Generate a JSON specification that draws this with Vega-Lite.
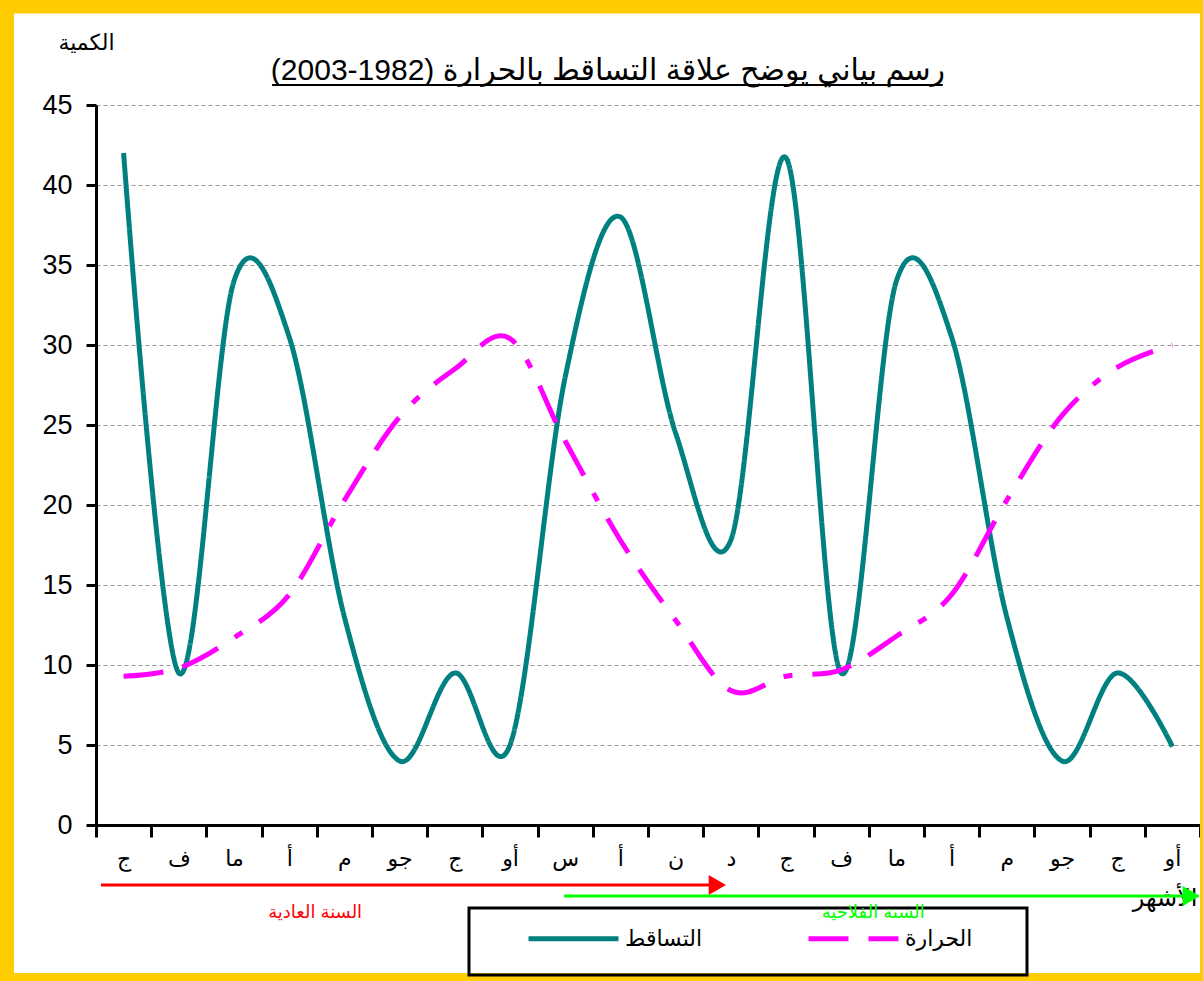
{
  "$schema": "https://vega.github.io/schema/vega-lite/v6.json",
  "width": 1104,
  "height": 720,
  "autosize": {"type": "none"},
  "padding": {"left": 96, "top": 105, "right": 3, "bottom": 156},
  "background": "white",
  "config": {"view": {"stroke": null}, "font": "Liberation Sans, DejaVu Sans, sans-serif"},
  "layer": [
    {
      "layer": [
        {
          "data": {"values": [{}]},
          "mark": {"type": "rect", "fillOpacity": 0, "stroke": "#FFCC00", "strokeWidth": 14},
          "encoding": {
            "x": {"datum": -1.6123, "type": "quantitative", "scale": {"domain": [0, 20], "nice": false, "zero": false}, "axis": null},
            "x2": {"datum": 20.127},
            "y": {"datum": 51.156, "type": "quantitative", "scale": {"domain": [0, 45], "nice": false}, "axis": null},
            "y2": {"datum": -9.6875}
          }
        },
        {
          "data": {"values": [{}]},
          "mark": {"type": "text", "text": "(2003-1982) رسم بياني يوضح علاقة التساقط بالحرارة", "color": "black", "fontSize": 30, "baseline": "alphabetic", "align": "center"},
          "encoding": {
            "x": {"datum": 9.275, "type": "quantitative", "scale": {"domain": [0, 20], "nice": false, "zero": false}, "axis": null},
            "y": {"datum": 46.5625, "type": "quantitative", "scale": {"domain": [0, 45], "nice": false}, "axis": null}
          }
        },
        {
          "data": {"values": [{}]},
          "mark": {"type": "rect", "fillOpacity": 0, "stroke": "black", "strokeWidth": 3},
          "encoding": {
            "x": {"datum": 6.757, "type": "quantitative", "scale": {"domain": [0, 20], "nice": false, "zero": false}, "axis": null},
            "x2": {"datum": 16.866},
            "y": {"datum": -5.19, "type": "quantitative", "scale": {"domain": [0, 45], "nice": false}, "axis": null},
            "y2": {"datum": -9.37}
          }
        },
        {
          "data": {"values": [{}]},
          "mark": {"type": "rule", "color": "black", "strokeWidth": 2},
          "encoding": {
            "x": {"datum": 3.19, "type": "quantitative", "scale": {"domain": [0, 20], "nice": false, "zero": false}, "axis": null},
            "x2": {"datum": 15.34},
            "y": {"datum": 46.25, "type": "quantitative", "scale": {"domain": [0, 45], "nice": false}, "axis": null}
          }
        },
        {
          "data": {"values": [{}]},
          "mark": {"type": "rule", "color": "#FF0000", "strokeWidth": 3},
          "encoding": {
            "x": {"datum": 0.09, "type": "quantitative", "scale": {"domain": [0, 20], "nice": false, "zero": false}, "axis": null},
            "x2": {"datum": 11.256},
            "y": {"datum": -3.75, "type": "quantitative", "scale": {"domain": [0, 45], "nice": false}, "axis": null}
          }
        },
        {
          "data": {"values": [{}]},
          "mark": {"type": "point", "shape": "triangle-right", "filled": true, "color": "#FF0000", "size": 400, "opacity": 1},
          "encoding": {
            "x": {"datum": 11.256, "type": "quantitative", "scale": {"domain": [0, 20], "nice": false, "zero": false}, "axis": null},
            "y": {"datum": -3.75, "type": "quantitative", "scale": {"domain": [0, 45], "nice": false}, "axis": null}
          }
        },
        {
          "data": {"values": [{}]},
          "mark": {"type": "rule", "color": "#00FF00", "strokeWidth": 3},
          "encoding": {
            "x": {"datum": 8.48, "type": "quantitative", "scale": {"domain": [0, 20], "nice": false, "zero": false}, "axis": null},
            "x2": {"datum": 19.843},
            "y": {"datum": -4.44, "type": "quantitative", "scale": {"domain": [0, 45], "nice": false}, "axis": null}
          }
        },
        {
          "data": {"values": [{}]},
          "mark": {"type": "point", "shape": "triangle-right", "filled": true, "color": "#00FF00", "size": 400, "opacity": 1},
          "encoding": {
            "x": {"datum": 19.843, "type": "quantitative", "scale": {"domain": [0, 20], "nice": false, "zero": false}, "axis": null},
            "y": {"datum": -4.44, "type": "quantitative", "scale": {"domain": [0, 45], "nice": false}, "axis": null}
          }
        },
        {
          "data": {"values": [{}]},
          "mark": {"type": "text", "text": "السنة العادية", "color": "#FF0000", "fontSize": 18, "baseline": "middle", "align": "center"},
          "encoding": {
            "x": {"datum": 3.97, "type": "quantitative", "scale": {"domain": [0, 20], "nice": false, "zero": false}, "axis": null},
            "y": {"datum": -5.5, "type": "quantitative", "scale": {"domain": [0, 45], "nice": false}, "axis": null}
          }
        },
        {
          "data": {"values": [{}]},
          "mark": {"type": "text", "text": "السنة الفلاحية", "color": "#00FF00", "fontSize": 18, "baseline": "middle", "align": "center"},
          "encoding": {
            "x": {"datum": 14.08, "type": "quantitative", "scale": {"domain": [0, 20], "nice": false, "zero": false}, "axis": null},
            "y": {"datum": -5.5, "type": "quantitative", "scale": {"domain": [0, 45], "nice": false}, "axis": null}
          }
        }
      ]
    },
    {
      "data": {"values": [
        {"i": 0, "series": "التساقط", "value": 42},
        {"i": 1, "series": "التساقط", "value": 9.5},
        {"i": 2, "series": "التساقط", "value": 34},
        {"i": 3, "series": "التساقط", "value": 30.5},
        {"i": 4, "series": "التساقط", "value": 13},
        {"i": 5, "series": "التساقط", "value": 4},
        {"i": 6, "series": "التساقط", "value": 9.5},
        {"i": 7, "series": "التساقط", "value": 5},
        {"i": 8, "series": "التساقط", "value": 28},
        {"i": 9, "series": "التساقط", "value": 38},
        {"i": 10, "series": "التساقط", "value": 24.5},
        {"i": 11, "series": "التساقط", "value": 17.8},
        {"i": 12, "series": "التساقط", "value": 41.7},
        {"i": 13, "series": "التساقط", "value": 9.5},
        {"i": 14, "series": "التساقط", "value": 34},
        {"i": 15, "series": "التساقط", "value": 30.5},
        {"i": 16, "series": "التساقط", "value": 13},
        {"i": 17, "series": "التساقط", "value": 4},
        {"i": 18, "series": "التساقط", "value": 9.5},
        {"i": 19, "series": "التساقط", "value": 4.9},
        {"i": 0, "series": "الحرارة", "value": 9.3},
        {"i": 1, "series": "الحرارة", "value": 9.8},
        {"i": 2, "series": "الحرارة", "value": 11.7},
        {"i": 3, "series": "الحرارة", "value": 14.4},
        {"i": 4, "series": "الحرارة", "value": 20.3},
        {"i": 5, "series": "الحرارة", "value": 25.5},
        {"i": 6, "series": "الحرارة", "value": 28.5},
        {"i": 7, "series": "الحرارة", "value": 30.4},
        {"i": 8, "series": "الحرارة", "value": 24},
        {"i": 9, "series": "الحرارة", "value": 17.8},
        {"i": 10, "series": "الحرارة", "value": 12.8},
        {"i": 11, "series": "الحرارة", "value": 8.4},
        {"i": 12, "series": "الحرارة", "value": 9.3},
        {"i": 13, "series": "الحرارة", "value": 9.7},
        {"i": 14, "series": "الحرارة", "value": 11.8},
        {"i": 15, "series": "الحرارة", "value": 14.4},
        {"i": 16, "series": "الحرارة", "value": 20.3},
        {"i": 17, "series": "الحرارة", "value": 25.6},
        {"i": 18, "series": "الحرارة", "value": 28.6},
        {"i": 19, "series": "الحرارة", "value": 30}
      ]},
      "mark": {"type": "line", "interpolate": "cardinal", "tension": 0, "strokeWidth": 5},
      "encoding": {
        "x": {
          "field": "i", "type": "ordinal", "bandPosition": 0.5,
          "scale": {"type": "band", "paddingInner": 0, "paddingOuter": 0},
          "axis": {
            "title": "الأشهر", "titleX": 1101, "titleY": 80, "titleAlign": "right", "titleBaseline": "alphabetic",
            "titleFontSize": 24, "titleFontWeight": "normal", "titleColor": "black",
            "labelExpr": "['ج','ف','ما','أ','م','جو','ج','أو','س','أ','ن','د','ج','ف','ما','أ','م','جو','ج','أو'][datum.value]",
            "labelAngle": 0, "labelFontSize": 22, "labelColor": "black", "labelPadding": 11,
            "tickBand": "extent", "tickSize": 12, "tickWidth": 3, "tickColor": "black",
            "domainColor": "black", "domainWidth": 3, "grid": false
          }
        },
        "y": {
          "field": "value", "type": "quantitative",
          "scale": {"domain": [0, 45], "nice": false},
          "axis": {
            "title": "الكمية", "titleAngle": 0, "titleX": -10, "titleY": -63, "titleAlign": "center", "titleBaseline": "middle",
            "titleFontSize": 22, "titleFontWeight": "normal", "titleColor": "black",
            "values": [0, 5, 10, 15, 20, 25, 30, 35, 40, 45],
            "labelFontSize": 27, "labelColor": "black", "labelPadding": 14,
            "tickSize": 10, "tickWidth": 3, "tickColor": "black",
            "domainColor": "black", "domainWidth": 3,
            "grid": true, "gridDash": [4, 3], "gridColor": "#999999", "gridWidth": 1
          }
        },
        "color": {
          "field": "series", "type": "nominal",
          "scale": {"domain": ["التساقط", "الحرارة"], "range": ["#008080", "#FF00FF"]},
          "legend": {
            "orient": "none", "legendX": 430, "legendY": 786, "direction": "horizontal", "title": null,
            "symbolType": "stroke", "symbolSize": 8100, "symbolStrokeWidth": 5,
            "labelFontSize": 22, "labelColor": "black", "labelOffset": 4, "columnPadding": 95, "padding": 0
          }
        },
        "strokeDash": {
          "field": "series", "type": "nominal",
          "scale": {"domain": ["التساقط", "الحرارة"], "range": [[1, 0], [40, 20, 40, 20, 9, 20]]},
          "legend": {
            "orient": "none", "legendX": 430, "legendY": 786, "direction": "horizontal", "title": null,
            "symbolType": "stroke", "symbolSize": 8100, "symbolStrokeWidth": 5,
            "labelFontSize": 22, "labelColor": "black", "labelOffset": 4, "columnPadding": 95, "padding": 0
          }
        }
      }
    }
  ],
  "resolve": {"scale": {"x": "independent"}, "axis": {"y": "independent"}}
}
